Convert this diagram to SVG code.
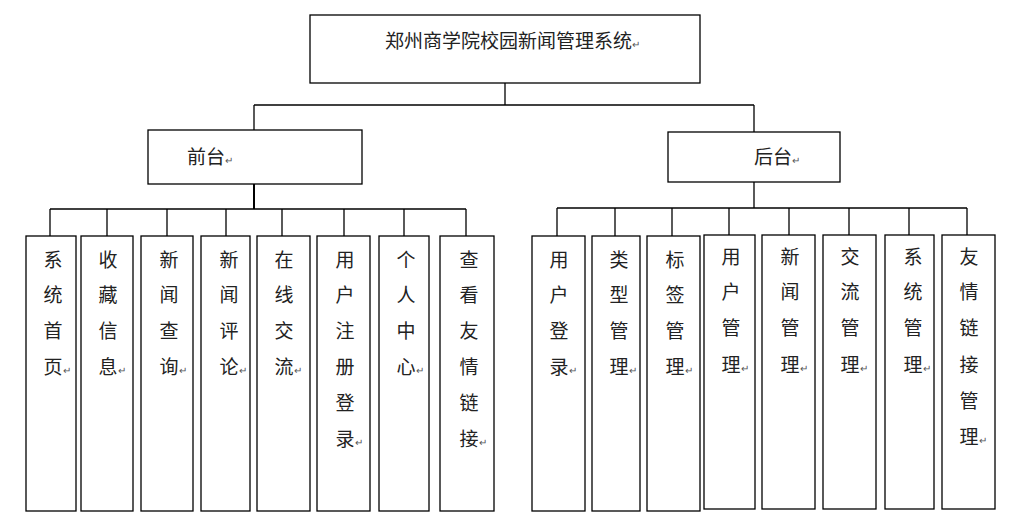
<svg xmlns="http://www.w3.org/2000/svg" width="1012" height="526" viewBox="0 0 1012 526">
<style>
rect.n{fill:#fff;stroke:#000;stroke-width:1.3}
.c line{stroke:#000;stroke-width:1.3}
text{font-family:"Noto Sans CJK SC",sans-serif;font-size:19px;fill:#222}
.v{text-anchor:middle}
tspan.r{font-size:10px;fill:#555}
</style>
<rect width="1012" height="526" fill="#fff"/>
<g class="c">
<line x1="505" y1="83" x2="505" y2="105"/><line x1="254" y1="105" x2="754" y2="105"/>
<line x1="254" y1="105" x2="254" y2="130"/><line x1="754" y1="105" x2="754" y2="132"/>
<line x1="254" y1="184" x2="254" y2="209" style="stroke-width:2"/><line x1="50" y1="209" x2="466" y2="209"/>
<line x1="50" y1="209" x2="50" y2="236"/><line x1="107" y1="209" x2="107" y2="236"/><line x1="167" y1="209" x2="167" y2="236"/><line x1="226" y1="209" x2="226" y2="236"/><line x1="282" y1="209" x2="282" y2="236"/><line x1="344" y1="209" x2="344" y2="236"/><line x1="404" y1="209" x2="404" y2="236"/><line x1="466" y1="209" x2="466" y2="236"/>
<line x1="754" y1="182" x2="754" y2="208"/><line x1="557" y1="208" x2="967" y2="208"/>
<line x1="557" y1="208" x2="557" y2="236"/><line x1="615" y1="208" x2="615" y2="236"/><line x1="672" y1="208" x2="672" y2="236"/><line x1="729" y1="208" x2="729" y2="235"/><line x1="789" y1="208" x2="789" y2="235"/><line x1="849" y1="208" x2="849" y2="235"/><line x1="909" y1="208" x2="909" y2="235"/><line x1="967" y1="208" x2="967" y2="235"/>
</g>
<g id="root"><rect class="n" x="310" y="15" width="390" height="68"/><text x="385" y="48">郑州商学院校园新闻管理系统<tspan class="r">↵</tspan></text></g>
<g id="front"><rect class="n" x="148" y="130" width="214" height="54"/><text x="187" y="164">前台<tspan class="r">↵</tspan></text></g>
<g id="back"><rect class="n" x="668" y="132" width="172" height="50"/><text x="754" y="164">后台<tspan class="r">↵</tspan></text></g>
<g id="f1"><rect class="n" x="26" y="236" width="50" height="275"/><text class="v" x="53" y="267">系</text><text class="v" x="53" y="302">统</text><text class="v" x="53" y="338">首</text><text class="v" x="53" y="374">页</text><text x="63" y="374"><tspan class="r">↵</tspan></text></g>
<g id="f2"><rect class="n" x="81" y="236" width="52" height="275"/><text class="v" x="108" y="267">收</text><text class="v" x="108" y="302">藏</text><text class="v" x="108" y="338">信</text><text class="v" x="108" y="374">息</text><text x="118" y="374"><tspan class="r">↵</tspan></text></g>
<g id="f3"><rect class="n" x="141" y="236" width="52" height="275"/><text class="v" x="169" y="267">新</text><text class="v" x="169" y="302">闻</text><text class="v" x="169" y="338">查</text><text class="v" x="169" y="374">询</text><text x="179" y="374"><tspan class="r">↵</tspan></text></g>
<g id="f4"><rect class="n" x="201" y="236" width="49" height="275"/><text class="v" x="229" y="267">新</text><text class="v" x="229" y="302">闻</text><text class="v" x="229" y="338">评</text><text class="v" x="229" y="374">论</text><text x="239" y="374"><tspan class="r">↵</tspan></text></g>
<g id="f5"><rect class="n" x="257" y="236" width="53" height="275"/><text class="v" x="284" y="267">在</text><text class="v" x="284" y="302">线</text><text class="v" x="284" y="338">交</text><text class="v" x="284" y="374">流</text><text x="294" y="374"><tspan class="r">↵</tspan></text></g>
<g id="f6"><rect class="n" x="317" y="236" width="53" height="275"/><text class="v" x="345" y="267">用</text><text class="v" x="345" y="302">户</text><text class="v" x="345" y="338">注</text><text class="v" x="345" y="374">册</text><text class="v" x="345" y="410">登</text><text class="v" x="345" y="446">录</text><text x="355" y="446"><tspan class="r">↵</tspan></text></g>
<g id="f7"><rect class="n" x="379" y="236" width="50" height="275"/><text class="v" x="406" y="267">个</text><text class="v" x="406" y="302">人</text><text class="v" x="406" y="338">中</text><text class="v" x="406" y="374">心</text><text x="416" y="374"><tspan class="r">↵</tspan></text></g>
<g id="f8"><rect class="n" x="440" y="236" width="54" height="275"/><text class="v" x="469" y="267">查</text><text class="v" x="469" y="302">看</text><text class="v" x="469" y="338">友</text><text class="v" x="469" y="374">情</text><text class="v" x="469" y="410">链</text><text class="v" x="469" y="446">接</text><text x="479" y="446"><tspan class="r">↵</tspan></text></g>
<g id="b1"><rect class="n" x="532" y="236" width="53" height="275"/><text class="v" x="559" y="267">用</text><text class="v" x="559" y="302">户</text><text class="v" x="559" y="338">登</text><text class="v" x="559" y="374">录</text><text x="569" y="374"><tspan class="r">↵</tspan></text></g>
<g id="b2"><rect class="n" x="592" y="236" width="48" height="275"/><text class="v" x="619" y="267">类</text><text class="v" x="619" y="302">型</text><text class="v" x="619" y="338">管</text><text class="v" x="619" y="374">理</text><text x="629" y="374"><tspan class="r">↵</tspan></text></g>
<g id="b3"><rect class="n" x="647" y="236" width="53" height="275"/><text class="v" x="675" y="267">标</text><text class="v" x="675" y="302">签</text><text class="v" x="675" y="338">管</text><text class="v" x="675" y="374">理</text><text x="685" y="374"><tspan class="r">↵</tspan></text></g>
<g id="b4"><rect class="n" x="704" y="235" width="51" height="274"/><text class="v" x="731" y="264">用</text><text class="v" x="731" y="299">户</text><text class="v" x="731" y="335">管</text><text class="v" x="731" y="372">理</text><text x="741" y="372"><tspan class="r">↵</tspan></text></g>
<g id="b5"><rect class="n" x="762" y="235" width="53" height="274"/><text class="v" x="790" y="264">新</text><text class="v" x="790" y="299">闻</text><text class="v" x="790" y="335">管</text><text class="v" x="790" y="372">理</text><text x="800" y="372"><tspan class="r">↵</tspan></text></g>
<g id="b6"><rect class="n" x="823" y="235" width="53" height="274"/><text class="v" x="850" y="264">交</text><text class="v" x="850" y="299">流</text><text class="v" x="850" y="335">管</text><text class="v" x="850" y="372">理</text><text x="860" y="372"><tspan class="r">↵</tspan></text></g>
<g id="b7"><rect class="n" x="885" y="235" width="49" height="274"/><text class="v" x="913" y="264">系</text><text class="v" x="913" y="299">统</text><text class="v" x="913" y="335">管</text><text class="v" x="913" y="372">理</text><text x="923" y="372"><tspan class="r">↵</tspan></text></g>
<g id="b8"><rect class="n" x="942" y="235" width="53" height="274"/><text class="v" x="969" y="264">友</text><text class="v" x="969" y="299">情</text><text class="v" x="969" y="335">链</text><text class="v" x="969" y="372">接</text><text class="v" x="969" y="408">管</text><text class="v" x="969" y="444">理</text><text x="979" y="444"><tspan class="r">↵</tspan></text></g>
</svg>
